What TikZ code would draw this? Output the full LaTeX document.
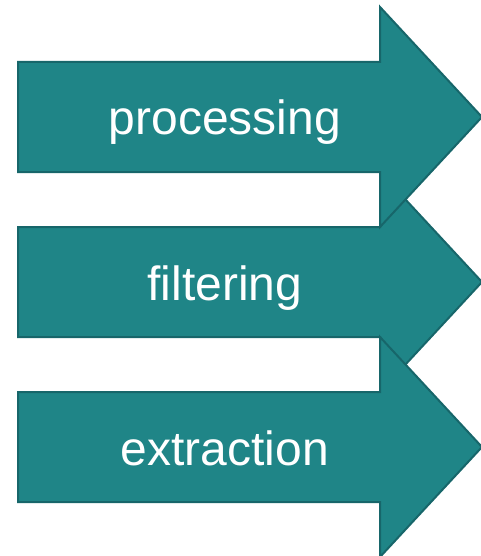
\documentclass[tikz,border=0pt]{standalone}
\usepackage{fontspec}
\setmainfont{Liberation Sans}
\usetikzlibrary{positioning}

\definecolor{stagefill}{HTML}{1F8587}
\definecolor{stageline}{HTML}{17666A}

\begin{document}
\begin{tikzpicture}[x=0.75pt, y=-0.75pt]
            \tikzset{
                stage/.style={
                        fill=stagefill, draw=stageline, line width=1.5pt, line join=miter
                    },
                stagetext/.style={
                        text=white, anchor=base, inner sep=0pt,
                        font=\fontsize{36}{40}\selectfont
                    }
            }

            % Page size
            \useasboundingbox (0,0) rectangle (480,556);

            % Arrows (the middle one lies underneath)
            \foreach \name/\yc/\word in {filtering/282/filtering, processing/117/processing, extraction/447/extraction} {
                \draw[stage] (18,\yc-55) -- (380,\yc-55) -- (380,\yc-110) -- (482,\yc)
                    -- (380,\yc+110) -- (380,\yc+55) -- (18,\yc+55) -- cycle;
                \node[stagetext] (\name) at (225,\yc+18) {\word};
            }
        \end{tikzpicture}
\end{document}
